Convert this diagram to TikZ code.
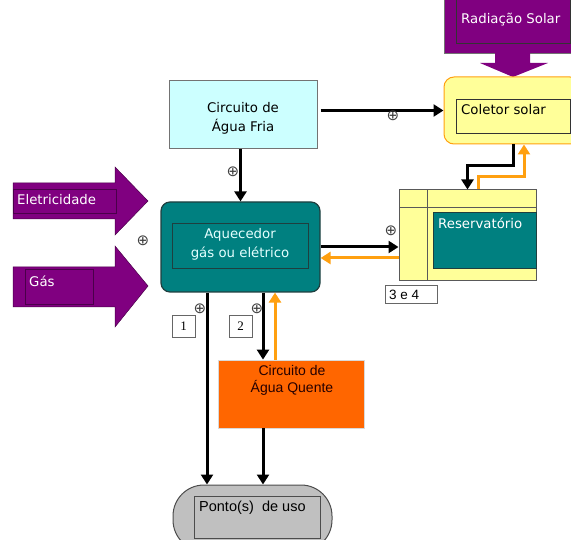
\documentclass[tikz,border=0pt]{standalone}
\usepackage{fontspec}
\setmainfont{DejaVu Sans}
\newfontfamily\arialf{Liberation Sans}
\newfontfamily\timesf{Liberation Serif}
\usetikzlibrary{arrows.meta,calc}
\definecolor{purp}{HTML}{800080}
\definecolor{purpdk}{HTML}{4A004A}
\definecolor{tealc}{HTML}{008080}
\definecolor{tealdk}{HTML}{1F3F3F}
\definecolor{yel}{HTML}{FFFF99}
\definecolor{orgln}{HTML}{FFA010}
\definecolor{orgbox}{HTML}{FF6600}
\definecolor{cyanl}{HTML}{CCFFFF}
\definecolor{grayf}{HTML}{C0C0C0}
\definecolor{lighttxt}{HTML}{E4FFFF}
\tikzset{
  blk/.style={line width=3pt,-{Triangle[length=10pt,width=12pt]}},
  org/.style={line width=3pt,draw=orgln,-{Triangle[length=10pt,width=12pt]},color=orgln},
  plainbox/.style={draw, inner sep=0pt, anchor=center},
  txt/.style={inner sep=0pt, font=\fontsize{13.3}{19}\selectfont},
  atxt/.style={inner sep=0pt, font=\arialf\fontsize{14}{17}\selectfont},
  oplus/.style={inner sep=0pt, text=black!75, font=\fontsize{15}{15}\selectfont},
  numbox/.style={draw=black!60, line width=0.6pt, inner sep=0pt, minimum width=23pt, minimum height=22pt, font=\timesf\fontsize{13}{13}\selectfont},
}
\begin{document}
\begin{tikzpicture}[x=1pt,y=-1pt]
\useasboundingbox (0,0) rectangle (571,540);

% Radiacao Solar
\fill[purp, draw=black!55, line width=0.8pt] (444,-2) rectangle (575,53);
\fill[purp] (495,53) -- (530,53) -- (530,63) -- (548,63) -- (513,77) -- (480,63) -- (495,63) -- cycle;
\node[plainbox, draw=black!80, line width=0.8pt, minimum width=114pt, minimum height=45pt] (radb) at (513,20.5) {};
\node[txt, anchor=west, text=white] (radt) at (461,20) {Radiação Solar};

% Coletor solar
\node[plainbox, draw=orgln, fill=yel, line width=1pt, rounded corners=10pt, minimum width=136pt, minimum height=67pt] (col) at (512,110.5) {};
\node[plainbox, draw=black!80, line width=0.8pt, minimum width=114pt, minimum height=34pt] (colb) at (513,116) {};
\node[txt, anchor=west] (colt) at (461,110) {Coletor solar};

% Circuito de Agua Fria
\node[plainbox, draw=black!55, fill=cyanl, line width=1pt, minimum width=148pt, minimum height=68pt] (fria) at (243,115) {};
\node[txt, align=center] (friat) at (243,118.5) {Circuito de\\Água Fria};

% Eletricidade arrow
\fill[purp, draw=purpdk, line width=0.5pt] (13,183) -- (115,183) -- (115,167) -- (148,201) -- (115,235) -- (115,219) -- (13,219) -- cycle;
\node[plainbox, draw=purpdk, line width=0.8pt, minimum width=103pt, minimum height=24pt] (eleb) at (64.5,201) {};
\node[txt, anchor=west, text=white] (elet) at (17,200) {Eletricidade};

% Gas arrow
\fill[purp, draw=purpdk, line width=0.5pt] (13,267) -- (115,267) -- (115,246) -- (148,286) -- (115,327) -- (115,307) -- (13,307) -- cycle;
\node[plainbox, draw=purpdk, line width=0.8pt, minimum width=68pt, minimum height=35pt] (gasb) at (59,286.5) {};
\node[txt, anchor=west, text=white] (gast) at (29,281) {Gás};

% Aquecedor
\node[plainbox, draw=tealdk, fill=tealc, line width=1.2pt, rounded corners=9pt, minimum width=159pt, minimum height=90pt] (aq) at (240.5,247) {};
\node[plainbox, draw=tealdk, line width=1pt, minimum width=136pt, minimum height=45pt] (aqb) at (240,246.5) {};
\node[txt, align=center, text=lighttxt] (aqt) at (240,244) {Aquecedor\\gás ou elétrico};

% Reservatorio
\node[plainbox, draw=black!65, fill=yel, line width=1pt, minimum width=137pt, minimum height=91pt] (res) at (467.5,235.5) {};
\draw[black!65, line width=1pt] (427,190) -- (427,281);
\draw[black!65, line width=1pt] (399,208) -- (536,208);
\node[plainbox, draw=tealdk, fill=tealc, line width=1pt, minimum width=103pt, minimum height=56pt] (resb) at (484.5,241) {};
\node[txt, anchor=west, text=white] (rest) at (438,223) {Reservatório};
\node[draw=black!60, line width=0.6pt, inner sep=0pt, minimum width=52pt, minimum height=18pt] (tf) at (411,294) {};
\node[atxt, anchor=west, font=\arialf\fontsize{13.5}{13.5}\selectfont] (tft) at (389,294.5) {3 e 4};

% Circuito de Agua Quente
\node[plainbox, draw=black!15, fill=orgbox, line width=0.8pt, minimum width=146pt, minimum height=68pt] (qu) at (291,394) {};
\node[atxt, align=center, text=black!85!red] (qut) at (292,380) {Circuito de\\Água Quente};

% Ponto(s) de uso
\node[plainbox, draw=black!70, fill=grayf, line width=1pt, rounded corners=31pt, minimum width=159pt, minimum height=66pt] (pon) at (252.5,518) {};
\node[plainbox, draw=black!70, line width=0.8pt, minimum width=126pt, minimum height=42pt] (ponb) at (257,517) {};
\node[atxt, anchor=west, font=\arialf\fontsize{14.5}{17}\selectfont] (pont) at (199,508) {Ponto(s)\ \ de uso};

% Numbered boxes
\node[numbox] (n1) at (183.5,326) {1};
\node[numbox] (n2) at (240.5,326) {2};

% Connectors
\draw[blk] ([xshift=3pt]fria.east |- col.west) -- (col.west);
\draw[blk] (aq.north |- fria.south) -- (aq.north);
\draw[blk] (aq.east) -- (aq.east -| res.west);
\draw[org] ([yshift=-11pt]aq.east -| res.west) -- ([yshift=-11pt]aq.east);
\draw[blk] ([xshift=1pt]col.south) -- ++(0,21) -| (res.north);
\draw[org] ([xshift=10.5pt]res.north) -- ++(0,-13) -| ([xshift=12pt]col.south);
\draw[blk] ([xshift=-33.5pt]aq.south) -- ([xshift=-33.5pt]aq.south |- pon.north);
\draw[blk] ([xshift=22.5pt]aq.south) -- ([xshift=22.5pt]aq.south |- qu.north);
\draw[org] ([xshift=34.5pt]aq.south |- qu.north) -- ([xshift=34.5pt]aq.south);
\draw[blk] ([xshift=22.5pt]aq.south |- qu.south) -- ([xshift=22.5pt]aq.south |- pon.north);

% oplus marks
\node[oplus] (o1) at (393,116) {⊕};
\node[oplus] (o2) at (233,172) {⊕};
\node[oplus] (o3) at (143,241) {⊕};
\node[oplus] (o4) at (391,231) {⊕};
\node[oplus] (o5) at (200,309) {⊕};
\node[oplus] (o6) at (257,309) {⊕};
\end{tikzpicture}
\end{document}
